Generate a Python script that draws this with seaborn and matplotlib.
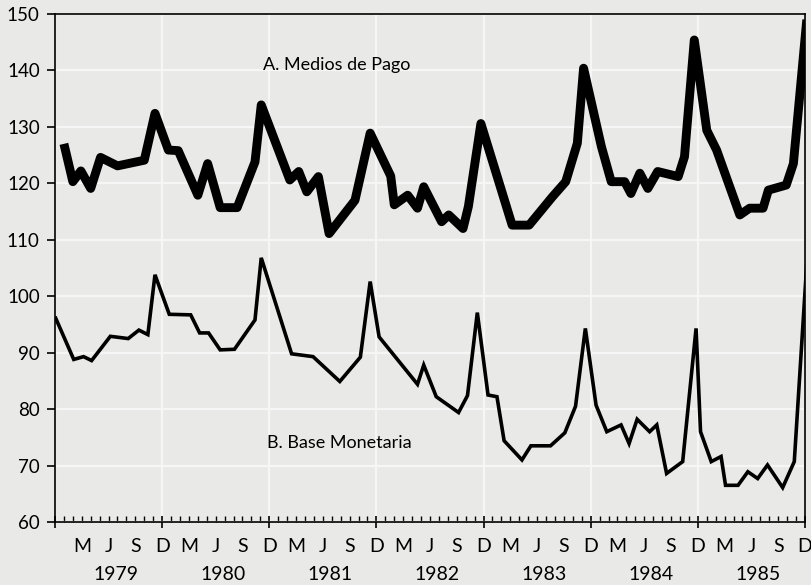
import numpy as np
import pandas as pd
import matplotlib
matplotlib.use("Agg")
import matplotlib.pyplot as plt
import matplotlib.transforms as mtransforms
import seaborn as sns

# months counted from December 1978 (0) to December 1985 (84)
medios_mes = [1, 2, 2.9, 4, 5.1, 7, 10, 11.2, 12.7, 13.8, 16, 17.1, 18.5, 20.4,
              22.4, 23.1, 26.3, 27.3, 28.2, 29.5, 30.7, 33.6, 35.3, 37.6, 38.0,
              39.5, 40.6, 41.3, 43.3, 44.1, 45.7, 46.3, 47.7, 51.2, 53.1, 55.7,
              57.2, 58.5, 59.2, 61.2, 62.3, 63.8, 64.5, 65.5, 66.4, 67.5, 69.8,
              70.5, 71.6, 73.0, 74.1, 76.7, 77.8, 79.3, 79.9, 81.9, 82.7, 84.2]
medios_val = [127, 120.3, 122.2, 119.1, 124.6, 123.1, 124.1, 132.4, 125.9, 125.8,
              117.9, 123.5, 115.7, 115.7, 123.8, 133.9, 120.6, 122.1, 118.5, 121.2,
              111.1, 117.0, 128.9, 121.3, 116.2, 117.9, 115.6, 119.4, 113.2, 114.4,
              112.0, 115.9, 130.6, 112.6, 112.6, 117.6, 120.3, 127.1, 140.4, 126.5,
              120.3, 120.3, 118.2, 121.8, 119.1, 122.1, 121.2, 124.7, 145.4, 129.4,
              125.9, 114.4, 115.6, 115.6, 118.8, 119.7, 123.5, 149.0]

base_mes = [0, 2.1, 3.2, 4.1, 6.2, 8.2, 9.4, 10.4, 11.2, 12.8, 15.2, 16.2, 17.2,
            18.5, 20.1, 22.4, 23.1, 26.5, 28.9, 31.9, 34.2, 35.3, 36.3, 40.6,
            41.3, 42.7, 45.2, 46.2, 47.3, 48.5, 49.5, 50.3, 52.3, 53.3, 55.5,
            57.1, 58.3, 59.4, 60.6, 61.8, 63.4, 64.3, 65.2, 66.6, 67.4, 68.5,
            70.3, 71.8, 72.3, 73.5, 74.6, 75.1, 76.5, 77.6, 78.7, 79.8, 81.5,
            82.8, 84.2]
base_val = [96.4, 88.8, 89.3, 88.6, 92.9, 92.5, 94.0, 93.2, 103.8, 96.8, 96.7,
            93.5, 93.5, 90.5, 90.6, 95.8, 106.8, 89.8, 89.3, 84.9, 89.2, 102.6,
            92.8, 84.4, 87.8, 82.2, 79.4, 82.4, 97.1, 82.5, 82.2, 74.4, 71.0,
            73.5, 73.5, 75.8, 80.5, 94.3, 80.7, 76.0, 77.2, 73.9, 78.2, 76.0,
            77.2, 68.6, 70.7, 94.3, 76.0, 70.7, 71.6, 66.5, 66.5, 68.9, 67.7,
            70.1, 66.1, 70.7, 105.8]

letras = ["M", "J", "S"]
anios = ["1979", "1980", "1981", "1982", "1983", "1984", "1985"]

paper = "#e9e9e7"
sns.set_theme(style="darkgrid", rc={
    "axes.facecolor": paper,
    "figure.facecolor": paper,
    "grid.color": "#f6f6f6",
    "grid.linewidth": 1.6,
    "axes.edgecolor": "black",
    "axes.linewidth": 1.2,
    "text.color": "black",
    "xtick.color": "black",
    "ytick.color": "black",
})
plt.rcParams["font.family"] = ["Lato", "DejaVu Sans"]

medios = pd.DataFrame({"mes": medios_mes, "valor": medios_val})
base = pd.DataFrame({"mes": base_mes, "valor": base_val})

fig = plt.figure(figsize=(8.11, 5.85), dpi=100)
ax = fig.add_axes([0.0678, 0.1077, 0.9248, 0.8683])

sns.lineplot(data=medios, x="mes", y="valor", ax=ax, color="black",
             linewidth=6.4, sort=False, estimator=None,
             solid_joinstyle="round", solid_capstyle="butt")
sns.lineplot(data=base, x="mes", y="valor", ax=ax, color="black",
             linewidth=2.6, sort=False, estimator=None,
             solid_joinstyle="miter", solid_capstyle="butt")

ax.set_xlim(0, 84)
ax.set_ylim(60, 150)
ax.set_xlabel("")
ax.set_ylabel("")

# y axis
ax.set_yticks(np.arange(60, 151, 10))
ax.tick_params(axis="y", which="major", direction="out", length=6, width=1.2,
               labelsize=13.5, pad=5, color="black", labelcolor="black", left=True)

# x axis: December ticks major, every month minor
dic = np.arange(0, 85, 12)
ax.set_xticks(dic)
ax.set_xticklabels([""] + ["D"] * (len(dic) - 1))
meses = np.arange(1, 85)
ax.set_xticks(meses, minor=True)
ax.set_xticklabels([letras[(m % 12) // 3 - 1] if m % 3 == 0 and m % 12 != 0 else ""
                    for m in meses], minor=True)
ax.tick_params(axis="x", which="major", direction="inout", length=9, width=1.2,
               labelsize=14, pad=7, color="black", labelcolor="black", bottom=True)
ax.tick_params(axis="x", which="minor", direction="in", length=4, width=1,
               labelsize=14, pad=11.5, color="black", labelcolor="black", bottom=True)
ax.grid(True, which="major")
ax.grid(False, which="minor")

for s in ax.spines.values():
    s.set_visible(True)
    s.set_color("black")

trans = mtransforms.blended_transform_factory(ax.transData, ax.transAxes)
for i, a in enumerate(anios):
    ax.text(6.8 + 12 * i, -0.104, a, transform=trans, ha="center", va="center",
            fontsize=14, color="black")

ax.text(31.5, 141, "A. Medios de Pago", ha="center", va="center", fontsize=13,
        color="black")
ax.text(31.8, 74, "B. Base Monetaria", ha="center", va="center", fontsize=13,
        color="black")

fig.savefig("out.png", dpi=100, facecolor=paper)
